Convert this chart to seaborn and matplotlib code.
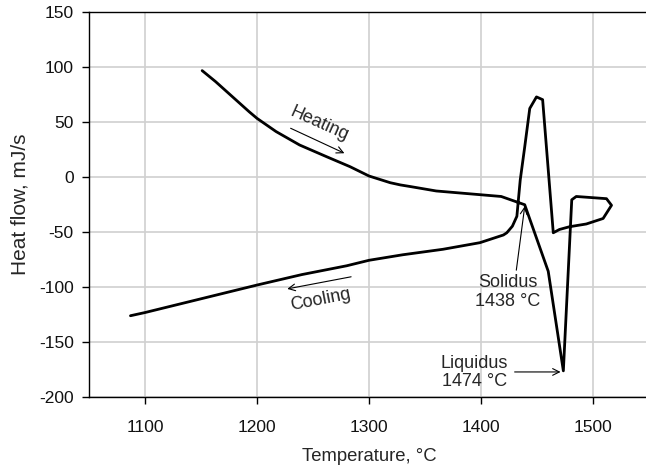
"""DSC curve: heating and cooling heat flow vs temperature, with solidus/liquidus marks"""
import matplotlib
matplotlib.use("Agg")
import matplotlib.pyplot as plt
import pandas as pd
import seaborn as sns

# one continuous trace: heating -> melting -> max temperature -> cooling
temperature = [1151, 1163, 1178, 1193, 1200, 1217, 1238, 1262, 1283, 1300, 1319, 1328,
               1337, 1360, 1418, 1439, 1460, 1473.5, 1481, 1485, 1512, 1516.5, 1509,
               1494, 1479, 1470, 1464.5, 1455, 1449.5, 1443.5, 1439, 1435, 1432, 1428,
               1423, 1420, 1399, 1366, 1330, 1300, 1280, 1240, 1200, 1160, 1130, 1100, 1087]
heat_flow = [96.4, 86.4, 72.7, 59, 53, 41, 28.8, 18.2, 9.1, 0.6, -5.5, -7.5,
             -9, -13, -18, -25.5, -86, -176.5, -21, -18, -20, -26, -38,
             -43, -45.5, -48, -51, 70, 72.5, 62, 27, -3, -36, -45,
             -51, -53, -60, -66, -71, -76, -81, -89, -98.5, -108.5, -116, -123.5, -126.4]

x_ticks = [1100, 1200, 1300, 1400, 1500]
y_ticks = [-200, -150, -100, -50, 0, 50, 100, 150]

df = pd.DataFrame({"T": temperature, "Q": heat_flow})

sns.set_theme(style="ticks")
plt.rcParams["font.family"] = ["Liberation Sans", "DejaVu Sans"]
plt.rcParams["axes.unicode_minus"] = False

fig = plt.figure(figsize=(6.46, 4.66), dpi=100)
ax = fig.add_axes([0.1378, 0.1487, 0.8669, 0.8263])

sns.lineplot(data=df, x="T", y="Q", sort=False, estimator=None, color="black",
             linewidth=2.0, ax=ax)

ax.set_xlim(1050, 1550)
ax.set_ylim(-200, 150)
ax.set_xticks(x_ticks)
ax.set_yticks(y_ticks)
ax.grid(True, color="#d0d0d0", linewidth=1.2)
ax.set_axisbelow(True)
for side in ["left", "bottom", "top"]:
    ax.spines[side].set_color("black")
    ax.spines[side].set_linewidth(1.0)
ax.spines["right"].set_visible(False)
ax.tick_params(axis="both", direction="out", length=5, width=1, color="black",
               labelsize=12.5, labelcolor="#111111", pad=6)
ax.tick_params(axis="x", pad=12)
ax.set_xlabel("Temperature, °C", fontsize=13.3, labelpad=9)
ax.set_ylabel("Heat flow, mJ/s", fontsize=15, labelpad=7)

arrow = dict(arrowstyle="->", color="black", lw=0.8, shrinkA=0, shrinkB=0)

ax.annotate("", xy=(1278, 21.3), xytext=(1230, 44), arrowprops=arrow)
ax.text(1256, 48, "Heating", rotation=-24, ha="center", va="center", fontsize=13)

ax.annotate("", xy=(1227, -102), xytext=(1284, -91), arrowprops=arrow)
ax.text(1257, -112, "Cooling", rotation=11, ha="center", va="center", fontsize=13)

ax.annotate("", xy=(1439, -27), xytext=(1431.5, -85), arrowprops=arrow)
ax.text(1424, -105, "Solidus\n1438 °C", ha="center", va="center", fontsize=13,
        linespacing=1.15)

ax.annotate("", xy=(1471, -177.5), xytext=(1430, -177.5), arrowprops=arrow)
ax.text(1394, -178, "Liquidus\n1474 °C", ha="center", va="center", fontsize=13,
        linespacing=1.15)

fig.savefig("out.png", dpi=100)
